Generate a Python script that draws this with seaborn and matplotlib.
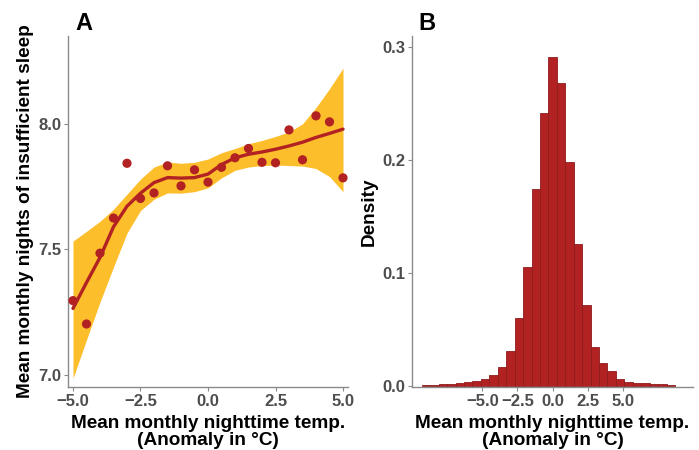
import numpy as np
import pandas as pd
import matplotlib
matplotlib.use("Agg")
import matplotlib.pyplot as plt
import seaborn as sns

# ---------------- data ----------------
# Panel A: binned means
temp_bins = [-5.0, -4.5, -4.0, -3.5, -3.0, -2.5, -2.0, -1.5, -1.0, -0.5, 0.0,
             0.5, 1.0, 1.5, 2.0, 2.5, 3.0, 3.5, 4.0, 4.5, 5.0]
sleep_mean = [7.296, 7.203, 7.485, 7.625, 7.843, 7.703, 7.725, 7.833, 7.753, 7.817,
              7.768, 7.827, 7.865, 7.902, 7.847, 7.845, 7.976, 7.857, 8.032, 8.008, 7.785]
# smooth fit and its confidence band (read at the same x values)
fit_mean = [7.265, 7.368, 7.468, 7.590, 7.672, 7.724, 7.766, 7.786, 7.784, 7.786, 7.800,
            7.838, 7.865, 7.879, 7.888, 7.899, 7.912, 7.927, 7.946, 7.962, 7.979]
fit_upper = [7.533, 7.572, 7.612, 7.660, 7.720, 7.780, 7.828, 7.848, 7.843, 7.847, 7.860,
             7.885, 7.902, 7.921, 7.934, 7.950, 7.968, 8.000, 8.065, 8.140, 8.222]
fit_lower = [6.987, 7.140, 7.290, 7.430, 7.565, 7.655, 7.700, 7.725, 7.724, 7.730, 7.745,
             7.785, 7.815, 7.828, 7.834, 7.836, 7.834, 7.832, 7.822, 7.790, 7.730]

# Panel B: histogram of anomalies (bin centres and densities)
hist_centers = [-9.0, -8.4, -7.8, -7.2, -6.6, -6.0, -5.4, -4.8, -4.2, -3.6, -3.0, -2.4,
                -1.8, -1.2, -0.6, 0.0, 0.6, 1.2, 1.8, 2.4, 3.0, 3.6, 4.2, 4.8, 5.4, 6.0,
                6.6, 7.2, 7.8, 8.4]
hist_density = [0.0010, 0.0010, 0.0012, 0.0015, 0.0024, 0.0033, 0.0044, 0.0062, 0.0091,
                0.0162, 0.0306, 0.0599, 0.1051, 0.1736, 0.2416, 0.2906, 0.2678, 0.1978,
                0.1255, 0.0712, 0.0340, 0.0200, 0.0127, 0.0062, 0.0036, 0.0027, 0.0022,
                0.0016, 0.0012, 0.0010]

xlab = "Mean monthly nighttime temp.\n(Anomaly in \u00b0C)"

# ---------------- style ----------------
sns.set_theme(style="white")
plt.rcParams["font.family"] = ["Liberation Sans", "DejaVu Sans"]
plt.rcParams["font.weight"] = "bold"
plt.rcParams["axes.labelweight"] = "bold"

RED = "#B22222"
EDGE = "#8E1C1C"
GOLD = "#FDBE2C"
TICKC = "#4D4D4D"
SPINE = "#8A8A8A"
LABSIZE = 13.7

fig = plt.figure(figsize=(6.99, 4.5), dpi=100)
axA = fig.add_axes([68 / 699, 1 - 387 / 450, 280 / 699, 351 / 450])
axB = fig.add_axes([412 / 699, 1 - 387 / 450, 281 / 699, 351 / 450])

dfA = pd.DataFrame({"x": temp_bins, "y": sleep_mean})
dfFit = pd.DataFrame({"x": temp_bins, "fit": fit_mean, "lo": fit_lower, "hi": fit_upper})

axA.fill_between(dfFit["x"], dfFit["lo"], dfFit["hi"], color=GOLD, lw=0, zorder=1)
sns.lineplot(data=dfFit, x="x", y="fit", ax=axA, color=RED, lw=2.4, zorder=3)
sns.scatterplot(data=dfA, x="x", y="y", ax=axA, color=RED, s=44, edgecolor="none", zorder=4)

axA.set_xlim(-5.185, 5.185)
axA.set_ylim(6.952, 8.35)
axA.set_xticks([-5.0, -2.5, 0.0, 2.5, 5.0])
axA.set_xticklabels(["\u22125.0", "\u22122.5", "0.0", "2.5", "5.0"])
axA.set_yticks([7.0, 7.5, 8.0])
axA.set_yticklabels(["7.0", "7.5", "8.0"])
axA.set_xlabel(xlab, fontsize=LABSIZE, fontweight="bold", color="black", labelpad=4, linespacing=1.05)
axA.set_ylabel("Mean monthly nights of insufficient sleep", fontsize=LABSIZE, fontweight="bold",
               color="black", labelpad=3)

dfB = pd.DataFrame({"x": hist_centers, "d": hist_density})
bw = hist_centers[1] - hist_centers[0]
edges = [c - bw / 2 for c in hist_centers] + [hist_centers[-1] + bw / 2]
sns.histplot(data=dfB, x="x", weights="d", bins=edges, stat="count", ax=axB,
             color=RED, edgecolor=EDGE, linewidth=0.6, alpha=1.0)
axB.set_xlim(-10.0, 9.98)
axB.set_ylim(-0.0012, 0.3094)
axB.set_xticks([-5.0, -2.5, 0.0, 2.5, 5.0])
axB.set_xticklabels(["\u22125.0", "\u22122.5", "0.0", "2.5", "5.0"])
axB.set_yticks([0.0, 0.1, 0.2, 0.3])
axB.set_yticklabels(["0.0", "0.1", "0.2", "0.3"])
axB.set_xlabel(xlab, fontsize=LABSIZE, fontweight="bold", color="black", labelpad=4, linespacing=1.05)
axB.set_ylabel("Density", fontsize=LABSIZE, fontweight="bold", color="black", labelpad=3)

for ax in (axA, axB):
    for s in ("top", "right"):
        ax.spines[s].set_visible(False)
    for s in ("left", "bottom"):
        ax.spines[s].set_color(SPINE)
        ax.spines[s].set_linewidth(1.0)
    ax.tick_params(axis="both", which="major", length=3, width=0.8, color=SPINE,
                   labelcolor=TICKC, labelsize=12, pad=2, left=True, bottom=True)
    for lab in ax.get_xticklabels() + ax.get_yticklabels():
        lab.set_fontweight("bold")
    ax.grid(False)
    ax.set_facecolor("white")

fig.text(75 / 699, 1 - 30 / 450, "A", fontsize=17, fontweight="bold", color="black",
         ha="left", va="baseline")
fig.text(418 / 699, 1 - 30 / 450, "B", fontsize=17, fontweight="bold", color="black",
         ha="left", va="baseline")

fig.savefig("out.png", dpi=100, facecolor="white")
